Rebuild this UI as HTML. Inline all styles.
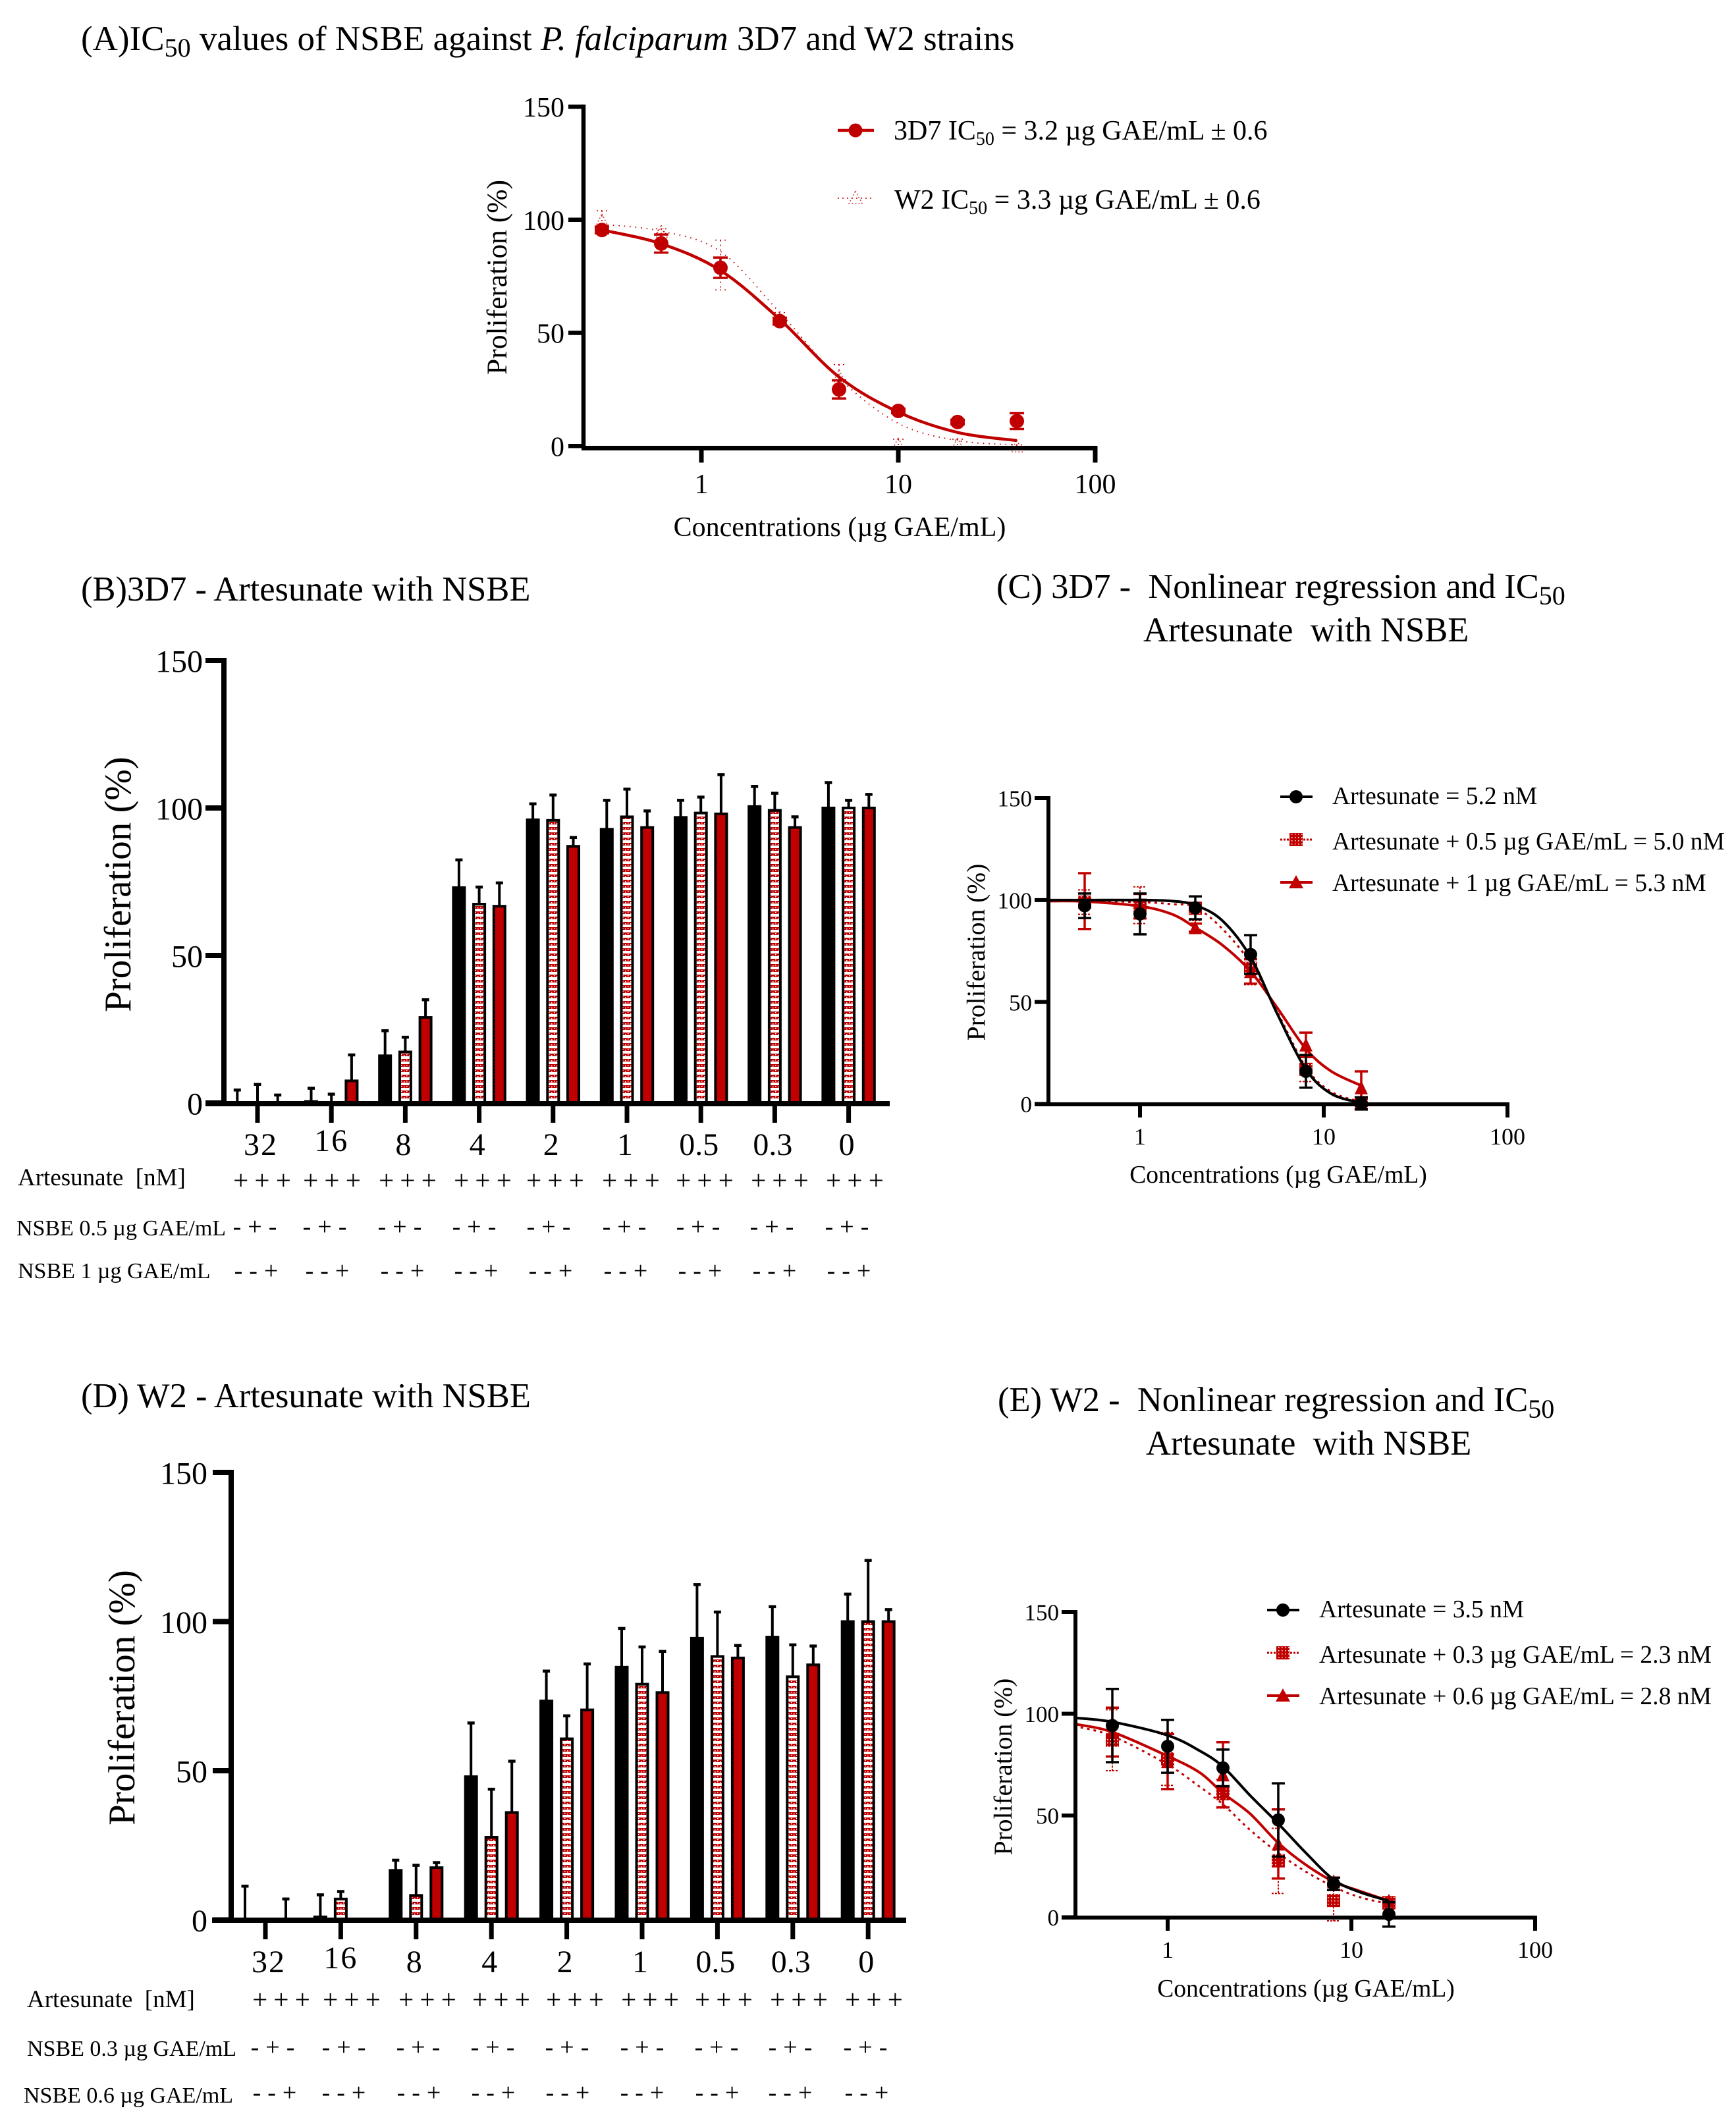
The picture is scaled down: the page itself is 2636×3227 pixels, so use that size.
<!DOCTYPE html>
<html lang="en">
<head>
<meta charset="utf-8">
<title>IC50 values of NSBE against P. falciparum</title>
<style>
html,body{margin:0;padding:0;background:#fff;}
svg{display:block;position:absolute;left:0;top:0;}
text{font-family:"Liberation Serif","DejaVu Serif",serif;fill:#000;white-space:pre;}
.t{font-size:52.5px;}
.lg{font-size:42px;}
.ls{font-size:37.6px;}
.rl{font-size:37px;}
.rs{font-size:34px;}
.xa{font-size:42px;}
.xs{font-size:37.6px;}
</style>
</head>
<body>
<svg id="figure" xmlns="http://www.w3.org/2000/svg" width="2636" height="3227" viewBox="0 0 2636 3227">
  <defs>
    <pattern id="stripe" patternUnits="userSpaceOnUse" width="8" height="8">
      <rect width="8" height="4" fill="#c00000"/>
      <rect x="1" y="1" width="1.5" height="1.5" fill="#fff"/>
      <rect x="5" y="2" width="1.5" height="1.5" fill="#fff"/>
    </pattern>
    <pattern id="check" patternUnits="userSpaceOnUse" width="5" height="5">
      <rect width="5" height="5" fill="#c00000"/>
      <rect x="1" y="1" width="1.5" height="1.5" fill="#fff"/>
    </pattern>
  </defs>
  <rect width="2636" height="3227" fill="#fff"/>

  <text style="font-size:53px" x="123" y="76">(A)IC<tspan font-size="40" dy="10">50</tspan><tspan dy="-10"> values of NSBE against </tspan><tspan font-style="italic">P. falciparum</tspan> 3D7 and W2 strains</text>
  <text class="t" x="123" y="912">(B)3D7 - Artesunate with NSBE</text>
  <text class="t" x="1513" y="908">(C) 3D7 -  Nonlinear regression and IC<tspan font-size="40" dy="10">50</tspan></text>
  <text class="t" x="1736" y="974">Artesunate  with NSBE</text>
  <text class="t" x="123" y="2137">(D) W2 - Artesunate with NSBE</text>
  <text class="t" x="1515" y="2143">(E) W2 -  Nonlinear regression and IC<tspan font-size="40" dy="10">50</tspan></text>
  <text class="t" x="1740" y="2209">Artesunate  with NSBE</text>

  <text style="font-size:43.5px" text-anchor="middle" transform="translate(769 421) rotate(-90)">Proliferation (%)</text>
  <text class="xa" text-anchor="middle" x="1275" y="814">Concentrations (µg GAE/mL)</text>
  <text style="font-size:57px" text-anchor="middle" transform="translate(198 1343) rotate(-90)">Proliferation (%)</text>
  <text style="font-size:57px" text-anchor="middle" transform="translate(204 2578) rotate(-90)">Proliferation (%)</text>
  <text style="font-size:39.5px" text-anchor="middle" transform="translate(1495 1446) rotate(-90)">Proliferation (%)</text>
  <text class="xs" text-anchor="middle" x="1941" y="1796">Concentrations (µg GAE/mL)</text>
  <text style="font-size:39.5px" text-anchor="middle" transform="translate(1536 2683) rotate(-90)">Proliferation (%)</text>
  <text class="xs" text-anchor="middle" x="1983" y="3032">Concentrations (µg GAE/mL)</text>

  <text class="rl" x="27" y="1800">Artesunate  [nM]</text>
  <text class="rs" x="25" y="1876">NSBE 0.5 µg GAE/mL</text>
  <text class="rs" x="27" y="1941">NSBE 1 µg GAE/mL</text>
  <text class="rl" x="41" y="3048">Artesunate  [nM]</text>
  <text class="rs" x="41" y="3122">NSBE 0.3 µg GAE/mL</text>
  <text class="rs" x="36" y="3193">NSBE 0.6 µg GAE/mL</text>

  <g>
    <g>
      <line x1="1272" y1="198" x2="1327" y2="198" stroke="#c00000" stroke-width="4.5"/>
      <circle cx="1299" cy="198" r="10.5" fill="#c00000"/>
      <text class="lg" x="1357" y="212">3D7 IC<tspan font-size="28" dy="8">50</tspan><tspan dy="-8"> = 3.2 µg GAE/mL ± 0.6</tspan></text>
    </g>
    <g>
      <line x1="1272" y1="301" x2="1327" y2="301" stroke="#c00000" stroke-width="1.5" stroke-dasharray="2 5"/>
      <path d="M1299 290 L1309 309 L1289 309 Z" fill="none" stroke="#d04040" stroke-width="1.5" stroke-dasharray="2 3"/>
      <text class="lg" x="1358" y="317">W2 IC<tspan font-size="28" dy="8">50</tspan><tspan dy="-8"> = 3.3 µg GAE/mL ± 0.6</tspan></text>
    </g>
  </g>

  <g>
    <g>
      <line x1="1944" y1="1210" x2="1993" y2="1210" stroke="#000" stroke-width="4"/>
      <circle cx="1968" cy="1210" r="10" fill="#000"/>
      <text class="ls" x="2023" y="1221">Artesunate = 5.2 nM</text>
    </g>
    <g>
      <line x1="1944" y1="1275" x2="1993" y2="1275" stroke="#c00000" stroke-width="3" stroke-dasharray="3 2"/>
      <rect x="1958" y="1265" width="20" height="20" fill="url(#check)"/>
      <text class="ls" x="2023" y="1290">Artesunate + 0.5 µg GAE/mL = 5.0 nM</text>
    </g>
    <g>
      <line x1="1944" y1="1340" x2="1993" y2="1340" stroke="#c00000" stroke-width="4"/>
      <path d="M1968 1329 L1979 1349 L1957 1349 Z" fill="#c00000"/>
      <text class="ls" x="2023" y="1353">Artesunate + 1 µg GAE/mL = 5.3 nM</text>
    </g>
  </g>

  <g>
    <g>
      <line x1="1924" y1="2445" x2="1973" y2="2445" stroke="#000" stroke-width="4"/>
      <circle cx="1948" cy="2445" r="10" fill="#000"/>
      <text class="ls" x="2003" y="2456">Artesunate = 3.5 nM</text>
    </g>
    <g>
      <line x1="1924" y1="2510" x2="1973" y2="2510" stroke="#c00000" stroke-width="3" stroke-dasharray="3 2"/>
      <rect x="1938" y="2500" width="20" height="20" fill="url(#check)"/>
      <text class="ls" x="2003" y="2525">Artesunate + 0.3 µg GAE/mL = 2.3 nM</text>
    </g>
    <g>
      <line x1="1924" y1="2575" x2="1973" y2="2575" stroke="#c00000" stroke-width="4"/>
      <path d="M1948 2564 L1959 2584 L1937 2584 Z" fill="#c00000"/>
      <text class="ls" x="2003" y="2588">Artesunate + 0.6 µg GAE/mL = 2.8 nM</text>
    </g>
  </g>
</svg>

<script>
/* ---------- shared axis labels ---------- */
const yTickValues = [0, 50, 100, 150];
const doseTickValues = [1, 10, 100];
const barCategories = ['32', '16', '8', '4', '2', '1', '0.5', '0.3', '0'];

/* ---------- panel A ---------- */
const aConc = [0.3125, 0.625, 1.25, 2.5, 5, 10, 20, 40];
const a3d7Values = [95.5, 89.5, 78.8, 55.2, 25, 15.5, 10.6, 11];
const a3d7Errors = [1.5, 4, 4.5, 1.5, 4, 1, 1, 3.5];
const aW2Values = [100, 95, 80, 57, 31, 1, 1, 0];
const aW2Errors = [4, 1, 11, 2, 5, 2, 2, 0.5];
const a3d7Fit = [95.5, 89.4, 77.6, 56, 30.5, 15, 6, 2.4];
const aW2Fit = [98, 95, 86, 59, 30, 10, 2.4, 0.5];

/* ---------- panel B ---------- */
const bArtesunate = [0, 0.5, 16, 73, 96, 92.8, 96.8, 100.5, 100];
const bArtesunateSd = [4.4, 4.5, 8.5, 9.4, 5.4, 9.8, 5.8, 6.8, 8.6];
const bNsbeLow = [0, 0, 17.3, 67.4, 95.8, 97, 98.3, 99.2, 100];
const bNsbeLowSd = [6.3, 3, 5, 5.8, 8.6, 9.4, 5.4, 5.8, 2.6];
const bNsbeHigh = [0, 7.5, 29, 66.7, 87, 93.4, 98, 93.4, 100];
const bNsbeHighSd = [2.7, 8.8, 6, 7.9, 3, 5.6, 13.3, 3.6, 4.6];

/* ---------- panel C ---------- */
const cConc = [0.5, 1, 2, 4, 8, 16];
const cArtesunate = [97.2, 93.2, 96.2, 73.3, 16, 0.3];
const cArtesunateSd = [6, 10, 5.6, 9.5, 8, 3];
const cNsbeLow = [99, 97.5, 96, 66.5, 17, 0.5];
const cNsbeLowSd = [6, 9, 6, 8, 6, 3];
const cNsbeHigh = [99.5, 97, 86.5, 65, 29, 8];
const cNsbeHighSd = [13.7, 6, 2, 6, 6, 8];
const cFitConc = [0.32, 0.5, 1, 1.5, 2, 2.8, 4, 5.6, 8, 11, 16];
const cArtesunateFit = [100, 100, 100, 99.5, 97.5, 90, 72, 44, 17, 5, 0.5];
const cNsbeLowFit = [100, 99.5, 99, 98, 96.5, 86, 69, 45, 18, 6, 1];
const cNsbeHighFit = [99.5, 99.3, 97, 93, 86.5, 78, 65, 47, 27, 16, 9];

/* ---------- panel D ---------- */
const dArtesunate = [0, 1, 16.6, 48, 73.4, 84.7, 94.4, 94.8, 100];
const dArtesunateSd = [11.3, 7.4, 3.4, 18, 10, 13, 18, 10.2, 9.2];
const dNsbeLow = [0, 7, 8.2, 27.7, 60.7, 79, 88.3, 81.5, 100];
const dNsbeLowSd = [0, 2.5, 10.1, 16.1, 7.7, 12.5, 14.9, 10.7, 20.5];
const dNsbeHigh = [0, 0, 17.5, 36, 70.4, 76.2, 87.8, 85.5, 100];
const dNsbeHighSd = [7, 0, 1.7, 17.2, 15.4, 13.8, 4.2, 6.3, 4];

/* ---------- panel E ---------- */
const eConc = [0.5, 1, 2, 4, 8, 16];
const eArtesunate = [94.2, 84, 73.4, 47.8, 16.4, 1.4];
const eArtesunateSd = [18, 13, 9, 18, 3, 6];
const eNsbeLow = [87, 77.8, 60.7, 27.7, 8.2, 7.1];
const eNsbeLowSd = [15, 13, 7, 16, 10, 3];
const eNsbeHigh = [91, 76.5, 70, 36, 17.5, 8];
const eNsbeHighSd = [12, 13.5, 16, 17, 2, 1];
const eFitConc = [0.31, 0.5, 1, 1.5, 2, 2.8, 4, 5.6, 8, 11, 16];
const eArtesunateFit = [98, 96, 89.4, 81.7, 74, 60, 46, 32, 18.5, 12.5, 8];
const eNsbeLowFit = [94, 89, 75, 64, 55.5, 43, 31.6, 22.6, 15, 10, 6.5];
const eNsbeHighFit = [95, 91, 79.2, 71, 61, 51, 36.5, 26, 17.5, 13, 8];

/* ---------- helpers ---------- */
const SVG_NS = 'http://www.w3.org/2000/svg';
const root = document.getElementById('figure');
const RED = '#c00000';

function mk(tag, attrs, parent) {
  const el = document.createElementNS(SVG_NS, tag);
  for (const k in attrs) el.setAttribute(k, attrs[k]);
  (parent || root).appendChild(el);
  return el;
}
function linearY(zero, top) {
  return v => zero - (zero - top) * v / 150;
}
function logX(one, ten) {
  return c => one + (ten - one) * Math.log10(c);
}
function bandX(first, step) {
  return i => first + step * i;
}
function smoothPath(pts) {
  let d = 'M' + pts[0][0] + ' ' + pts[0][1];
  for (let i = 0; i < pts.length - 1; i++) {
    const p0 = pts[Math.max(i - 1, 0)], p1 = pts[i], p2 = pts[i + 1], p3 = pts[Math.min(i + 2, pts.length - 1)];
    const c1x = p1[0] + (p2[0] - p0[0]) / 6, c1y = p1[1] + (p2[1] - p0[1]) / 6;
    const c2x = p2[0] - (p3[0] - p1[0]) / 6, c2y = p2[1] - (p3[1] - p1[1]) / 6;
    d += ' C' + c1x + ' ' + c1y + ' ' + c2x + ' ' + c2y + ' ' + p2[0] + ' ' + p2[1];
  }
  return d;
}

function drawYAxis(panel, sy, axisX, baseY, cfg) {
  const axis = mk('line', {x1: axisX, x2: axisX, y1: sy(150) - cfg.weight / 2, y2: baseY, stroke: '#000', 'stroke-width': cfg.weight});
  
  
  yTickValues.forEach(v => {
    const tick = mk('line', {x1: axisX - cfg.tick, x2: axisX, y1: sy(v), y2: sy(v), stroke: '#000', 'stroke-width': cfg.weight});
    
    
    const label = mk('text', {x: axisX - cfg.tick - cfg.gap, y: sy(v) + cfg.font * 0.36, 'text-anchor': 'end', 'font-size': cfg.font});
    label.textContent = v;
    
    
  });
}

function drawDoseXAxis(panel, sx, axisX, baseY, cfg) {
  const axis = mk('line', {x1: axisX - cfg.left, x2: sx(100) + cfg.weight / 2, y1: baseY, y2: baseY, stroke: '#000', 'stroke-width': cfg.weight});
  
  
  doseTickValues.forEach(v => {
    const tick = mk('line', {x1: sx(v), x2: sx(v), y1: baseY, y2: baseY + cfg.tick, stroke: '#000', 'stroke-width': cfg.weight});
    
    
    const label = mk('text', {x: sx(v), y: cfg.labelY, 'text-anchor': 'middle', 'font-size': cfg.font});
    label.textContent = v;
    
    
  });
}

function drawFit(panel, series, conc, values, sx, sy, style) {
  const pts = conc.map((c, i) => [sx(c), sy(values[i])]);
  const attrs = {d: smoothPath(pts), fill: 'none', stroke: style.color, 'stroke-width': style.width};
  if (style.dash) attrs['stroke-dasharray'] = style.dash;
  const path = mk('path', attrs);
  
  
}

function drawPoints(panel, series, conc, values, errors, sx, sy, style) {
  conc.forEach((c, i) => {
    const x = sx(c), y = sy(values[i]), hi = sy(values[i] + errors[i]), lo = sy(values[i] - errors[i]);
    const eAttrs = {stroke: style.color, 'stroke-width': style.errWidth, fill: 'none', d:
      'M' + x + ' ' + hi + ' L' + x + ' ' + lo +
      ' M' + (x - style.cap) + ' ' + hi + ' L' + (x + style.cap) + ' ' + hi +
      ' M' + (x - style.cap) + ' ' + lo + ' L' + (x + style.cap) + ' ' + lo};
    if (style.dash) eAttrs['stroke-dasharray'] = style.dash;
    const err = mk('path', eAttrs);
    
    
    let m;
    const r = style.r;
    if (style.marker === 'circle') {
      m = mk('circle', {cx: x, cy: y, r: r, fill: style.color});
    } else if (style.marker === 'square') {
      m = mk('rect', {x: x - r, y: y - r, width: 2 * r, height: 2 * r, fill: 'url(#check)'});
    } else if (style.marker === 'triangle') {
      m = mk('path', {d: 'M' + x + ' ' + (y - r * 1.1) + ' L' + (x + r) + ' ' + (y + r) + ' L' + (x - r) + ' ' + (y + r) + ' Z', fill: style.color});
    } else {
      m = mk('path', {d: 'M' + x + ' ' + (y - r) + ' L' + (x + r) + ' ' + (y + r) + ' L' + (x - r) + ' ' + (y + r) + ' Z', fill: 'none', stroke: '#d04040', 'stroke-width': 1.5, 'stroke-dasharray': '2 3'});
    }
    
    
  });
}

function drawBars(panel, series, values, sds, sx, sy, offset, fill) {
  values.forEach((v, i) => {
    const x = sx(i) + offset;
    const top = sy(v + sds[i]);
    if (sds[i] > 0) {
      const stem = mk('line', {x1: x, x2: x, y1: top, y2: sy(v), stroke: '#000', 'stroke-width': 4});
      
      
      const cap = mk('line', {x1: x - 5.5, x2: x + 5.5, y1: top, y2: top, stroke: '#000', 'stroke-width': 4.5});
      
      
    }
    const bar = mk('rect', {x: x - 8.5, y: sy(v), width: 17, height: Math.max(sy(0) - sy(v), 0), fill: fill, stroke: '#000', 'stroke-width': 4});
    
    
  });
}

function drawBarXAxis(panel, sx, x1, x2, baseY, labelY, font) {
  const axis = mk('line', {x1: x1, x2: x2, y1: baseY, y2: baseY, stroke: '#000', 'stroke-width': 8});
  
  
  barCategories.forEach((c, i) => {
    const tick = mk('line', {x1: sx(i), x2: sx(i), y1: baseY, y2: baseY + 29, stroke: '#000', 'stroke-width': 7});
    
    
    const label = mk('text', {x: sx(i) + (c === '32' ? 5 : c === '16' ? 0 : -3), y: labelY - (c === '16' ? 6 : 0), 'text-anchor': 'middle', 'font-size': font});
    if (c === '32' || c === '16') label.setAttribute('letter-spacing', '2');
    label.textContent = c;
    
    
  });
}

function drawMarkRow(name, text, y, centers, font, wordGap) {
  centers.forEach(cx => {
    const t = mk('text', {x: cx, y: y, 'text-anchor': 'middle', 'font-size': font, 'word-spacing': wordGap});
    t.textContent = text;
    
    
  });
}

/* ---------- draw panel A ---------- */
(function () {
  const sx = logX(1065, 1364), sy = linearY(677.3, 162);
  const w2 = {color: RED, errWidth: 1.5, cap: 8, r: 9, marker: 'openTriangle', dash: '2 5', width: 2};
  drawFit('panel-a', 'w2', aConc, aW2Fit, sx, sy, {color: RED, width: 2, dash: '1.5 7'});
  drawPoints('panel-a', 'w2', aConc, aW2Values, aW2Errors, sx, sy, w2);
  drawFit('panel-a', '3d7', aConc, a3d7Fit, sx, sy, {color: RED, width: 4.5});
  drawPoints('panel-a', '3d7', aConc, a3d7Values, a3d7Errors, sx, sy, {color: RED, errWidth: 3.5, cap: 11, r: 11, marker: 'circle'});
  drawYAxis('panel-a', sy, 886, 680.5, {weight: 6.5, tick: 23, gap: 6, font: 42});
  drawDoseXAxis('panel-a', sx, 886, 680.5, {weight: 7, left: 3, tick: 22, font: 42, labelY: 749});
})();

/* ---------- draw panel B ---------- */
(function () {
  const sx = bandX(391, 112.2), sy = linearY(1675, 1003);
  drawBars('panel-b', 'artesunate', bArtesunate, bArtesunateSd, sx, sy, -30.7, '#000');
  drawBars('panel-b', 'nsbe-low', bNsbeLow, bNsbeLowSd, sx, sy, 0, 'url(#stripe)');
  drawBars('panel-b', 'nsbe-high', bNsbeHigh, bNsbeHighSd, sx, sy, 30.7, RED);
  drawYAxis('panel-b', sy, 340, 1676, {weight: 8, tick: 28, gap: 4, font: 48});
  drawBarXAxis('panel-b', sx, 312, 1351, 1676, 1754, 48);
  drawMarkRow('panel-b-artesunate-mark', '+ + +', 1806, [398, 504, 619, 733, 843, 958, 1070, 1184, 1298], 41, -1);
  drawMarkRow('panel-b-nsbe-low-mark', '- + -', 1875, [387, 493, 607, 720, 833, 948, 1060, 1172, 1286], 38, 0.5);
  drawMarkRow('panel-b-nsbe-high-mark', '- - +', 1942, [389, 497, 611, 723, 836, 950, 1063, 1176, 1289], 38, 0.5);
})();

/* ---------- draw panel C ---------- */
(function () {
  const sx = logX(1731, 2010), sy = linearY(1676.5, 1212);
  drawFit('panel-c', 'nsbe-low', cFitConc, cNsbeLowFit, sx, sy, {color: RED, width: 3, dash: '4 6'});
  drawPoints('panel-c', 'nsbe-low', cConc, cNsbeLow, cNsbeLowSd, sx, sy, {color: RED, errWidth: 2, cap: 10, r: 10, marker: 'square', dash: '3 2'});
  drawFit('panel-c', 'nsbe-high', cFitConc, cNsbeHighFit, sx, sy, {color: RED, width: 4});
  drawPoints('panel-c', 'nsbe-high', cConc, cNsbeHigh, cNsbeHighSd, sx, sy, {color: RED, errWidth: 3.5, cap: 10, r: 10, marker: 'triangle'});
  drawFit('panel-c', 'artesunate', cFitConc, cArtesunateFit, sx, sy, {color: '#000', width: 4});
  drawPoints('panel-c', 'artesunate', cConc, cArtesunate, cArtesunateSd, sx, sy, {color: '#000', errWidth: 3.5, cap: 10, r: 10, marker: 'circle'});
  drawYAxis('panel-c', sy, 1592, 1677, {weight: 6, tick: 21, gap: 4, font: 35});
  drawDoseXAxis('panel-c', sx, 1592, 1677, {weight: 6, left: 21, tick: 20, font: 36, labelY: 1738});
})();

/* ---------- draw panel D ---------- */
(function () {
  const sx = bandX(403, 114.4), sy = linearY(2915.5, 2236);
  drawBars('panel-d', 'artesunate', dArtesunate, dArtesunateSd, sx, sy, -31, '#000');
  drawBars('panel-d', 'nsbe-low', dNsbeLow, dNsbeLowSd, sx, sy, 0, 'url(#stripe)');
  drawBars('panel-d', 'nsbe-high', dNsbeHigh, dNsbeHighSd, sx, sy, 31, RED);
  drawYAxis('panel-d', sy, 351, 2916, {weight: 8, tick: 28, gap: 8, font: 48});
  drawBarXAxis('panel-d', sx, 322, 1376, 2916, 2995, 48);
  drawMarkRow('panel-d-artesunate-mark', '+ + +', 3050, [427, 534, 649, 761, 873, 987, 1099, 1213, 1327], 41, -1);
  drawMarkRow('panel-d-nsbe-low-mark', '- + -', 3121, [414, 522, 635, 748, 861, 975, 1088, 1200, 1314], 38, 0.5);
  drawMarkRow('panel-d-nsbe-high-mark', '- - +', 3190, [417, 522, 636, 749, 862, 975, 1089, 1200, 1316], 38, 0.5);
})();

/* ---------- draw panel E ---------- */
(function () {
  const sx = logX(1773, 2052), sy = linearY(2911.5, 2448);
  drawFit('panel-e', 'nsbe-low', eFitConc, eNsbeLowFit, sx, sy, {color: RED, width: 3, dash: '4 6'});
  drawPoints('panel-e', 'nsbe-low', eConc, eNsbeLow, eNsbeLowSd, sx, sy, {color: RED, errWidth: 2, cap: 10, r: 10, marker: 'square', dash: '3 2'});
  drawFit('panel-e', 'nsbe-high', eFitConc, eNsbeHighFit, sx, sy, {color: RED, width: 4});
  drawPoints('panel-e', 'nsbe-high', eConc, eNsbeHigh, eNsbeHighSd, sx, sy, {color: RED, errWidth: 3.5, cap: 10, r: 10, marker: 'triangle'});
  drawFit('panel-e', 'artesunate', eFitConc, eArtesunateFit, sx, sy, {color: '#000', width: 4});
  drawPoints('panel-e', 'artesunate', eConc, eArtesunate, eArtesunateSd, sx, sy, {color: '#000', errWidth: 3.5, cap: 10, r: 10, marker: 'circle'});
  drawYAxis('panel-e', sy, 1633, 2912, {weight: 6, tick: 21, gap: 4, font: 35});
  drawDoseXAxis('panel-e', sx, 1633, 2912, {weight: 6, left: 21, tick: 20, font: 36, labelY: 2973});
})();
</script>
</body>
</html>
